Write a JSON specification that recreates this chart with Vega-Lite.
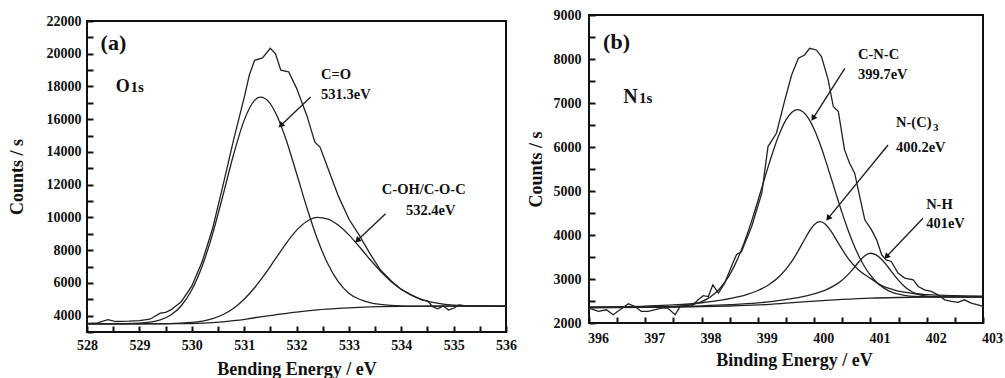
{
  "$schema": "https://vega.github.io/schema/vega-lite/v6.json",
  "background": "white",
  "padding": {"left": 7, "top": 7, "right": 0, "bottom": 0},
  "spacing": 8,
  "config": {
    "view": {"stroke": "#111", "strokeWidth": 2},
    "font": "Liberation Serif",
    "axis": {
      "labelFont": "Liberation Serif", "labelFontWeight": "bold", "labelFontSize": 14, "labelColor": "#111",
      "titleFont": "Liberation Serif", "titleFontWeight": "bold", "titleFontSize": 18, "titleColor": "#111",
      "grid": false, "domain": false, "ticks": true, "tickColor": "#111", "tickWidth": 2, "tickSize": -6, "zindex": 1,
      "labelOverlap": false, "labelFlush": false, "labelBound": false, "labelPadding": 12
    }
  },
  "datasets": {
    "a": [
      {"s":"env","x":528.0,"y":3530},{"s":"env","x":528.2,"y":3560},{"s":"env","x":528.4,"y":3750},{"s":"env","x":528.55,"y":3640},{"s":"env","x":528.8,"y":3660},{"s":"env","x":529.0,"y":3700},{"s":"env","x":529.2,"y":3780},{"s":"env","x":529.4,"y":4150},{"s":"env","x":529.5,"y":4200},{"s":"env","x":529.6,"y":4350},{"s":"env","x":529.8,"y":4850},{"s":"env","x":530.0,"y":5800},{"s":"env","x":530.2,"y":7300},{"s":"env","x":530.4,"y":9350},{"s":"env","x":530.6,"y":12000},{"s":"env","x":530.8,"y":14750},{"s":"env","x":531.0,"y":17300},{"s":"env","x":531.1,"y":18700},{"s":"env","x":531.2,"y":19600},{"s":"env","x":531.35,"y":19750},{"s":"env","x":531.5,"y":20330},{"s":"env","x":531.6,"y":20000},{"s":"env","x":531.7,"y":19000},{"s":"env","x":531.85,"y":18900},{"s":"env","x":532.0,"y":17900},{"s":"env","x":532.2,"y":16200},{"s":"env","x":532.35,"y":14600},{"s":"env","x":532.45,"y":14300},{"s":"env","x":532.6,"y":13000},{"s":"env","x":532.8,"y":11300},{"s":"env","x":533.0,"y":9900},{"s":"env","x":533.2,"y":8900},{"s":"env","x":533.4,"y":7800},{"s":"env","x":533.6,"y":6800},{"s":"env","x":533.8,"y":6150},{"s":"env","x":534.0,"y":5600},{"s":"env","x":534.2,"y":5250},{"s":"env","x":534.4,"y":4950},{"s":"env","x":534.5,"y":4900},{"s":"env","x":534.6,"y":4550},{"s":"env","x":534.7,"y":4420},{"s":"env","x":534.8,"y":4600},{"s":"env","x":534.9,"y":4350},{"s":"env","x":535.0,"y":4450},{"s":"env","x":535.1,"y":4650},{"s":"env","x":535.3,"y":4560},{"s":"env","x":535.6,"y":4580},{"s":"env","x":536.0,"y":4570},
      {"s":"c1","x":528.0,"y":3500},{"s":"c1","x":528.5,"y":3500},{"s":"c1","x":529.0,"y":3538},{"s":"c1","x":529.2,"y":3599},{"s":"c1","x":529.4,"y":3747},{"s":"c1","x":529.6,"y":4042},{"s":"c1","x":529.8,"y":4606},{"s":"c1","x":530.0,"y":5565},{"s":"c1","x":530.2,"y":7032},{"s":"c1","x":530.4,"y":9019},{"s":"c1","x":530.6,"y":11401},{"s":"c1","x":530.8,"y":13857},{"s":"c1","x":531.0,"y":15929},{"s":"c1","x":531.2,"y":17152},{"s":"c1","x":531.3,"y":17345},{"s":"c1","x":531.4,"y":17265},{"s":"c1","x":531.6,"y":16392},{"s":"c1","x":531.8,"y":14763},{"s":"c1","x":532.0,"y":12701},{"s":"c1","x":532.2,"y":10573},{"s":"c1","x":532.4,"y":8666},{"s":"c1","x":532.6,"y":7152},{"s":"c1","x":532.8,"y":6066},{"s":"c1","x":533.0,"y":5373},{"s":"c1","x":533.2,"y":5000},{"s":"c1","x":533.4,"y":4800},{"s":"c1","x":533.6,"y":4690},{"s":"c1","x":533.8,"y":4630},{"s":"c1","x":534.0,"y":4600},{"s":"c1","x":534.4,"y":4585},{"s":"c1","x":535.0,"y":4580},{"s":"c1","x":536.0,"y":4580},
      {"s":"c2","x":528.0,"y":3500},{"s":"c2","x":529.0,"y":3503},{"s":"c2","x":529.4,"y":3510},{"s":"c2","x":529.6,"y":3517},{"s":"c2","x":529.8,"y":3539},{"s":"c2","x":530.0,"y":3583},{"s":"c2","x":530.2,"y":3669},{"s":"c2","x":530.4,"y":3818},{"s":"c2","x":530.6,"y":4070},{"s":"c2","x":530.8,"y":4454},{"s":"c2","x":531.0,"y":5002},{"s":"c2","x":531.2,"y":5705},{"s":"c2","x":531.4,"y":6548},{"s":"c2","x":531.6,"y":7477},{"s":"c2","x":531.8,"y":8406},{"s":"c2","x":532.0,"y":9206},{"s":"c2","x":532.2,"y":9765},{"s":"c2","x":532.4,"y":10000},{"s":"c2","x":532.6,"y":9903},{"s":"c2","x":532.8,"y":9523},{"s":"c2","x":533.0,"y":8934},{"s":"c2","x":533.2,"y":8207},{"s":"c2","x":533.4,"y":7444},{"s":"c2","x":533.6,"y":6728},{"s":"c2","x":533.8,"y":6103},{"s":"c2","x":534.0,"y":5607},{"s":"c2","x":534.2,"y":5235},{"s":"c2","x":534.4,"y":4977},{"s":"c2","x":534.6,"y":4809},{"s":"c2","x":534.8,"y":4706},{"s":"c2","x":535.0,"y":4645},{"s":"c2","x":535.2,"y":4612},{"s":"c2","x":535.4,"y":4595},{"s":"c2","x":535.6,"y":4587},{"s":"c2","x":536.0,"y":4581},
      {"s":"bg","x":528.0,"y":3500},{"s":"bg","x":529.0,"y":3500},{"s":"bg","x":529.5,"y":3505},{"s":"bg","x":530.0,"y":3520},{"s":"bg","x":530.4,"y":3570},{"s":"bg","x":530.8,"y":3690},{"s":"bg","x":531.2,"y":3870},{"s":"bg","x":531.6,"y":4050},{"s":"bg","x":532.0,"y":4220},{"s":"bg","x":532.4,"y":4350},{"s":"bg","x":532.8,"y":4440},{"s":"bg","x":533.2,"y":4505},{"s":"bg","x":533.6,"y":4545},{"s":"bg","x":534.0,"y":4565},{"s":"bg","x":534.5,"y":4575},{"s":"bg","x":535.0,"y":4580},{"s":"bg","x":536.0,"y":4580}
    ],
    "b": [
      {"s":"env","x":396.0,"y":2340},{"s":"env","x":396.17,"y":2263},{"s":"env","x":396.31,"y":2300},{"s":"env","x":396.43,"y":2187},{"s":"env","x":396.55,"y":2300},{"s":"env","x":396.7,"y":2437},{"s":"env","x":396.82,"y":2376},{"s":"env","x":396.93,"y":2263},{"s":"env","x":397.05,"y":2263},{"s":"env","x":397.29,"y":2338},{"s":"env","x":397.4,"y":2338},{"s":"env","x":397.53,"y":2187},{"s":"env","x":397.62,"y":2376},{"s":"env","x":397.82,"y":2376},{"s":"env","x":397.94,"y":2527},{"s":"env","x":398.03,"y":2620},{"s":"env","x":398.12,"y":2600},{"s":"env","x":398.2,"y":2868},{"s":"env","x":398.3,"y":2679},{"s":"env","x":398.41,"y":2906},{"s":"env","x":398.53,"y":3285},{"s":"env","x":398.62,"y":3550},{"s":"env","x":398.71,"y":3625},{"s":"env","x":398.89,"y":4193},{"s":"env","x":399.07,"y":4950},{"s":"env","x":399.18,"y":6010},{"s":"env","x":399.33,"y":6313},{"s":"env","x":399.48,"y":7070},{"s":"env","x":399.6,"y":7637},{"s":"env","x":399.72,"y":8016},{"s":"env","x":399.83,"y":8092},{"s":"env","x":399.92,"y":8243},{"s":"env","x":400.04,"y":8205},{"s":"env","x":400.13,"y":8054},{"s":"env","x":400.25,"y":7524},{"s":"env","x":400.34,"y":6920},{"s":"env","x":400.43,"y":6806},{"s":"env","x":400.54,"y":5934},{"s":"env","x":400.63,"y":5631},{"s":"env","x":400.72,"y":5404},{"s":"env","x":400.81,"y":4874},{"s":"env","x":400.9,"y":4345},{"s":"env","x":401.02,"y":4117},{"s":"env","x":401.11,"y":3890},{"s":"env","x":401.2,"y":3550},{"s":"env","x":401.28,"y":3436},{"s":"env","x":401.37,"y":3398},{"s":"env","x":401.49,"y":3133},{"s":"env","x":401.61,"y":3020},{"s":"env","x":401.76,"y":2982},{"s":"env","x":401.85,"y":2830},{"s":"env","x":401.96,"y":2755},{"s":"env","x":402.08,"y":2717},{"s":"env","x":402.2,"y":2641},{"s":"env","x":402.32,"y":2527},{"s":"env","x":402.44,"y":2490},{"s":"env","x":402.56,"y":2467},{"s":"env","x":402.67,"y":2527},{"s":"env","x":402.79,"y":2452},{"s":"env","x":402.91,"y":2414},{"s":"env","x":403.0,"y":2376},
      {"s":"c1","x":396.0,"y":2350},{"s":"c1","x":397.0,"y":2355},{"s":"c1","x":397.5,"y":2370},{"s":"c1","x":397.7,"y":2392},{"s":"c1","x":397.9,"y":2442},{"s":"c1","x":398.0,"y":2485},{"s":"c1","x":398.1,"y":2547},{"s":"c1","x":398.2,"y":2634},{"s":"c1","x":398.3,"y":2750},{"s":"c1","x":398.4,"y":2904},{"s":"c1","x":398.5,"y":3100},{"s":"c1","x":398.6,"y":3344},{"s":"c1","x":398.7,"y":3638},{"s":"c1","x":398.8,"y":3979},{"s":"c1","x":398.9,"y":4361},{"s":"c1","x":399.0,"y":4773},{"s":"c1","x":399.1,"y":5200},{"s":"c1","x":399.2,"y":5622},{"s":"c1","x":399.3,"y":6013},{"s":"c1","x":399.4,"y":6350},{"s":"c1","x":399.5,"y":6615},{"s":"c1","x":399.6,"y":6785},{"s":"c1","x":399.7,"y":6849},{"s":"c1","x":399.8,"y":6803},{"s":"c1","x":399.9,"y":6651},{"s":"c1","x":400.0,"y":6405},{"s":"c1","x":400.1,"y":6084},{"s":"c1","x":400.2,"y":5708},{"s":"c1","x":400.3,"y":5302},{"s":"c1","x":400.4,"y":4890},{"s":"c1","x":400.5,"y":4491},{"s":"c1","x":400.6,"y":4120},{"s":"c1","x":400.7,"y":3790},{"s":"c1","x":400.8,"y":3507},{"s":"c1","x":400.9,"y":3273},{"s":"c1","x":401.0,"y":3087},{"s":"c1","x":401.1,"y":2939},{"s":"c1","x":401.2,"y":2829},{"s":"c1","x":401.3,"y":2748},{"s":"c1","x":401.4,"y":2692},{"s":"c1","x":401.5,"y":2654},{"s":"c1","x":401.6,"y":2629},{"s":"c1","x":401.8,"y":2602},{"s":"c1","x":402.0,"y":2595},{"s":"c1","x":402.5,"y":2594},{"s":"c1","x":403.0,"y":2595},
      {"s":"c2","x":396.0,"y":2365},{"s":"c2","x":397.0,"y":2385},{"s":"c2","x":397.5,"y":2410},{"s":"c2","x":398.0,"y":2460},{"s":"c2","x":398.4,"y":2530},{"s":"c2","x":398.8,"y":2645},{"s":"c2","x":399.0,"y":2739},{"s":"c2","x":399.2,"y":2875},{"s":"c2","x":399.4,"y":3080},{"s":"c2","x":399.6,"y":3395},{"s":"c2","x":399.7,"y":3600},{"s":"c2","x":399.8,"y":3829},{"s":"c2","x":399.9,"y":4054},{"s":"c2","x":400.0,"y":4231},{"s":"c2","x":400.1,"y":4303},{"s":"c2","x":400.2,"y":4247},{"s":"c2","x":400.3,"y":4087},{"s":"c2","x":400.4,"y":3878},{"s":"c2","x":400.5,"y":3666},{"s":"c2","x":400.6,"y":3476},{"s":"c2","x":400.8,"y":3193},{"s":"c2","x":401.0,"y":3015},{"s":"c2","x":401.2,"y":2850},{"s":"c2","x":401.4,"y":2760},{"s":"c2","x":401.6,"y":2700},{"s":"c2","x":401.8,"y":2665},{"s":"c2","x":402.0,"y":2645},{"s":"c2","x":402.5,"y":2620},{"s":"c2","x":403.0,"y":2610},
      {"s":"c3","x":396.0,"y":2352},{"s":"c3","x":397.0,"y":2367},{"s":"c3","x":398.0,"y":2391},{"s":"c3","x":398.5,"y":2417},{"s":"c3","x":399.0,"y":2457},{"s":"c3","x":399.3,"y":2496},{"s":"c3","x":399.6,"y":2552},{"s":"c3","x":399.8,"y":2599},{"s":"c3","x":400.0,"y":2660},{"s":"c3","x":400.2,"y":2748},{"s":"c3","x":400.4,"y":2884},{"s":"c3","x":400.5,"y":2980},{"s":"c3","x":400.6,"y":3100},{"s":"c3","x":400.7,"y":3243},{"s":"c3","x":400.8,"y":3398},{"s":"c3","x":400.9,"y":3529},{"s":"c3","x":401.0,"y":3585},{"s":"c3","x":401.1,"y":3549},{"s":"c3","x":401.2,"y":3445},{"s":"c3","x":401.3,"y":3295},{"s":"c3","x":401.4,"y":3127},{"s":"c3","x":401.5,"y":2969},{"s":"c3","x":401.6,"y":2837},{"s":"c3","x":401.7,"y":2739},{"s":"c3","x":401.8,"y":2673},{"s":"c3","x":401.9,"y":2634},{"s":"c3","x":402.0,"y":2612},{"s":"c3","x":402.2,"y":2596},{"s":"c3","x":402.5,"y":2594},{"s":"c3","x":403.0,"y":2595},
      {"s":"bg","x":396.0,"y":2350},{"s":"bg","x":397.0,"y":2355},{"s":"bg","x":397.5,"y":2360},{"s":"bg","x":398.0,"y":2370},{"s":"bg","x":398.5,"y":2386},{"s":"bg","x":399.0,"y":2410},{"s":"bg","x":399.5,"y":2450},{"s":"bg","x":400.0,"y":2495},{"s":"bg","x":400.5,"y":2535},{"s":"bg","x":401.0,"y":2565},{"s":"bg","x":401.5,"y":2580},{"s":"bg","x":402.0,"y":2588},{"s":"bg","x":402.5,"y":2590},{"s":"bg","x":403.0,"y":2590}
    ],
    "arA": [
      {"id":1,"x":532.27,"y":17352,"x2":531.70,"y2":15621},
      {"id":2,"x":533.70,"y":10221,"x2":533.16,"y2":8588}
    ],
    "arB": [
      {"id":1,"x":400.545,"y":7788,"x2":399.98,"y2":6652},
      {"id":2,"x":401.313,"y":6045,"x2":400.248,"y2":4379},
      {"id":3,"x":401.934,"y":4379,"x2":401.283,"y2":3506}
    ],
    "tA": [
      {"r":"tag","t":"(a)","x":528.26,"y":20667},
      {"r":"big","t":"O","x":528.55,"y":17670},
      {"r":"small","t":"1s","x":528.83,"y":17670},
      {"r":"note","t":"C=O","x":532.47,"y":18679},
      {"r":"note","t":"531.3eV","x":532.47,"y":17456},
      {"r":"note","t":"C-OH/C-O-C","x":533.63,"y":11646},
      {"r":"note","t":"532.4eV","x":534.09,"y":10422}
    ],
    "tB": [
      {"r":"tag","t":"(b)","x":396.25,"y":8393},
      {"r":"big","t":"N","x":396.61,"y":6993},
      {"r":"small","t":"1s","x":396.89,"y":6993},
      {"r":"note","t":"C-N-C","x":400.78,"y":8091},
      {"r":"note","t":"399.7eV","x":400.78,"y":7636},
      {"r":"note","t":"N-(C)","x":401.455,"y":6545},
      {"r":"sub","t":"3","x":402.11,"y":6431},
      {"r":"note","t":"400.2eV","x":401.455,"y":5977},
      {"r":"note","t":"N-H","x":401.99,"y":4681},
      {"r":"note","t":"401eV","x":401.99,"y":4249}
    ],
    "blank": [{"t": ""}]
  },
  "hconcat": [
    {
      "bounds": "flush",
      "spacing": 5,
      "vconcat": [
        {
          "width": 419, "height": 1,
          "view": {"stroke": null},
          "data": {"name": "blank"},
          "mark": {"type": "text", "opacity": 0},
          "encoding": {"text": {"field": "t"}}
        },
        {
          "width": 419, "height": 311,
          "encoding": {
            "x": {"field": "x", "type": "quantitative",
              "scale": {"domain": [528, 536], "nice": false, "zero": false},
              "axis": {"title": "Bending Energy / eV", "values": [528,528.5,529,529.5,530,530.5,531,531.5,532,532.5,533,533.5,534,534.5,535,535.5,536],
                "labelExpr": "datum.value % 1 === 0 ? format(datum.value, 'd') : ''", "titlePadding": 8}},
            "y": {"field": "y", "type": "quantitative",
              "scale": {"domain": [3000, 22000], "nice": false, "zero": false},
              "axis": {"title": "Counts / s", "values": [3000,4000,5000,6000,7000,8000,9000,10000,11000,12000,13000,14000,15000,16000,17000,18000,19000,20000,21000,22000],
                "labelExpr": "datum.value % 2000 === 0 && datum.value >= 4000 ? format(datum.value, 'd') : ''", "titlePadding": 20}}
          },
          "layer": [
            {"data": {"name": "a"}, "transform": [{"filter": "datum.s !== 'env'"}],
             "mark": {"type": "line", "interpolate": "monotone", "color": "#222", "strokeWidth": 1.3},
             "encoding": {"detail": {"field": "s"}}},
            {"data": {"name": "a"}, "transform": [{"filter": "datum.s === 'env'"}],
             "mark": {"type": "line", "color": "#222", "strokeWidth": 1.3}},
            {"data": {"name": "arA"}, "mark": {"type": "rule", "color": "#222", "strokeWidth": 1.4},
             "encoding": {"x2": {"field": "x2"}, "y2": {"field": "y2"}}},
            {"data": {"name": "arA"}, "transform": [{"filter": "datum.id === 1"}],
             "mark": {"type": "point", "shape": "triangle-up", "filled": true, "color": "#111", "opacity": 1, "size": 45, "angle": 226.7},
             "encoding": {"x": {"field": "x2", "type": "quantitative"}, "y": {"field": "y2", "type": "quantitative"}}},
            {"data": {"name": "arA"}, "transform": [{"filter": "datum.id === 2"}],
             "mark": {"type": "point", "shape": "triangle-up", "filled": true, "color": "#111", "opacity": 1, "size": 45, "angle": 226.8},
             "encoding": {"x": {"field": "x2", "type": "quantitative"}, "y": {"field": "y2", "type": "quantitative"}}},
            {"data": {"name": "tA"}, "transform": [{"filter": "datum.r === 'tag'"}],
             "mark": {"type": "text", "align": "left", "baseline": "middle", "font": "Liberation Serif", "fontWeight": "bold", "fontSize": 22, "color": "#111"},
             "encoding": {"text": {"field": "t"}}},
            {"data": {"name": "tA"}, "transform": [{"filter": "datum.r === 'big'"}],
             "mark": {"type": "text", "align": "left", "baseline": "alphabetic", "font": "Liberation Serif", "fontWeight": "bold", "fontSize": 18, "color": "#111"},
             "encoding": {"text": {"field": "t"}}},
            {"data": {"name": "tA"}, "transform": [{"filter": "datum.r === 'small'"}],
             "mark": {"type": "text", "align": "left", "baseline": "alphabetic", "font": "Liberation Serif", "fontWeight": "bold", "fontSize": 15, "color": "#111"},
             "encoding": {"text": {"field": "t"}}},
            {"data": {"name": "tA"}, "transform": [{"filter": "datum.r === 'note'"}],
             "mark": {"type": "text", "align": "left", "baseline": "middle", "font": "Liberation Serif", "fontWeight": "bold", "fontSize": 14.5, "color": "#111"},
             "encoding": {"text": {"field": "t"}}}
          ]
        }
      ]
    },
    {
      "width": 394, "height": 308,
      "encoding": {
        "x": {"field": "x", "type": "quantitative",
          "scale": {"domain": [396, 403], "nice": false, "zero": false},
          "axis": {"title": "Binding Energy / eV", "values": [396,396.5,397,397.5,398,398.5,399,399.5,400,400.5,401,401.5,402,402.5,403],
            "labelExpr": "datum.value % 1 === 0 ? format(datum.value, 'd') : ''",
            "labelPadding": 14, "titlePadding": 6, "labelOffset": 9, "titleX": 205}},
        "y": {"field": "y", "type": "quantitative",
          "scale": {"domain": [2000, 9000], "nice": false, "zero": false},
          "axis": {"title": "Counts / s", "values": [2000,2500,3000,3500,4000,4500,5000,5500,6000,6500,7000,7500,8000,8500,9000],
            "labelExpr": "datum.value % 1000 === 0 ? format(datum.value, 'd') : ''",
            "labelPadding": 14, "titlePadding": 8}}
      },
      "layer": [
        {"data": {"name": "b"}, "transform": [{"filter": "datum.s !== 'env'"}],
         "mark": {"type": "line", "interpolate": "monotone", "color": "#222", "strokeWidth": 1.3},
         "encoding": {"detail": {"field": "s"}}},
        {"data": {"name": "b"}, "transform": [{"filter": "datum.s === 'env'"}],
         "mark": {"type": "line", "color": "#222", "strokeWidth": 1.3}},
        {"data": {"name": "arB"}, "mark": {"type": "rule", "color": "#222", "strokeWidth": 1.4},
         "encoding": {"x2": {"field": "x2"}, "y2": {"field": "y2"}}},
        {"data": {"name": "arB"}, "transform": [{"filter": "datum.id === 1"}],
         "mark": {"type": "point", "shape": "triangle-up", "filled": true, "color": "#111", "opacity": 1, "size": 45, "angle": 212.4},
         "encoding": {"x": {"field": "x2", "type": "quantitative"}, "y": {"field": "y2", "type": "quantitative"}}},
        {"data": {"name": "arB"}, "transform": [{"filter": "datum.id === 2"}],
         "mark": {"type": "point", "shape": "triangle-up", "filled": true, "color": "#111", "opacity": 1, "size": 45, "angle": 219.3},
         "encoding": {"x": {"field": "x2", "type": "quantitative"}, "y": {"field": "y2", "type": "quantitative"}}},
        {"data": {"name": "arB"}, "transform": [{"filter": "datum.id === 3"}],
         "mark": {"type": "point", "shape": "triangle-up", "filled": true, "color": "#111", "opacity": 1, "size": 45, "angle": 223.7},
         "encoding": {"x": {"field": "x2", "type": "quantitative"}, "y": {"field": "y2", "type": "quantitative"}}},
        {"data": {"name": "tB"}, "transform": [{"filter": "datum.r === 'tag'"}],
         "mark": {"type": "text", "align": "left", "baseline": "middle", "font": "Liberation Serif", "fontWeight": "bold", "fontSize": 22, "color": "#111"},
         "encoding": {"text": {"field": "t"}}},
        {"data": {"name": "tB"}, "transform": [{"filter": "datum.r === 'big'"}],
         "mark": {"type": "text", "align": "left", "baseline": "alphabetic", "font": "Liberation Serif", "fontWeight": "bold", "fontSize": 20, "color": "#111"},
         "encoding": {"text": {"field": "t"}}},
        {"data": {"name": "tB"}, "transform": [{"filter": "datum.r === 'small'"}],
         "mark": {"type": "text", "align": "left", "baseline": "alphabetic", "font": "Liberation Serif", "fontWeight": "bold", "fontSize": 15, "color": "#111"},
         "encoding": {"text": {"field": "t"}}},
        {"data": {"name": "tB"}, "transform": [{"filter": "datum.r === 'note'"}],
         "mark": {"type": "text", "align": "left", "baseline": "middle", "font": "Liberation Serif", "fontWeight": "bold", "fontSize": 14.5, "color": "#111"},
         "encoding": {"text": {"field": "t"}}},
        {"data": {"name": "tB"}, "transform": [{"filter": "datum.r === 'sub'"}],
         "mark": {"type": "text", "align": "left", "baseline": "middle", "font": "Liberation Serif", "fontWeight": "bold", "fontSize": 11, "color": "#111"},
         "encoding": {"text": {"field": "t"}}}
      ]
    }
  ]
}
